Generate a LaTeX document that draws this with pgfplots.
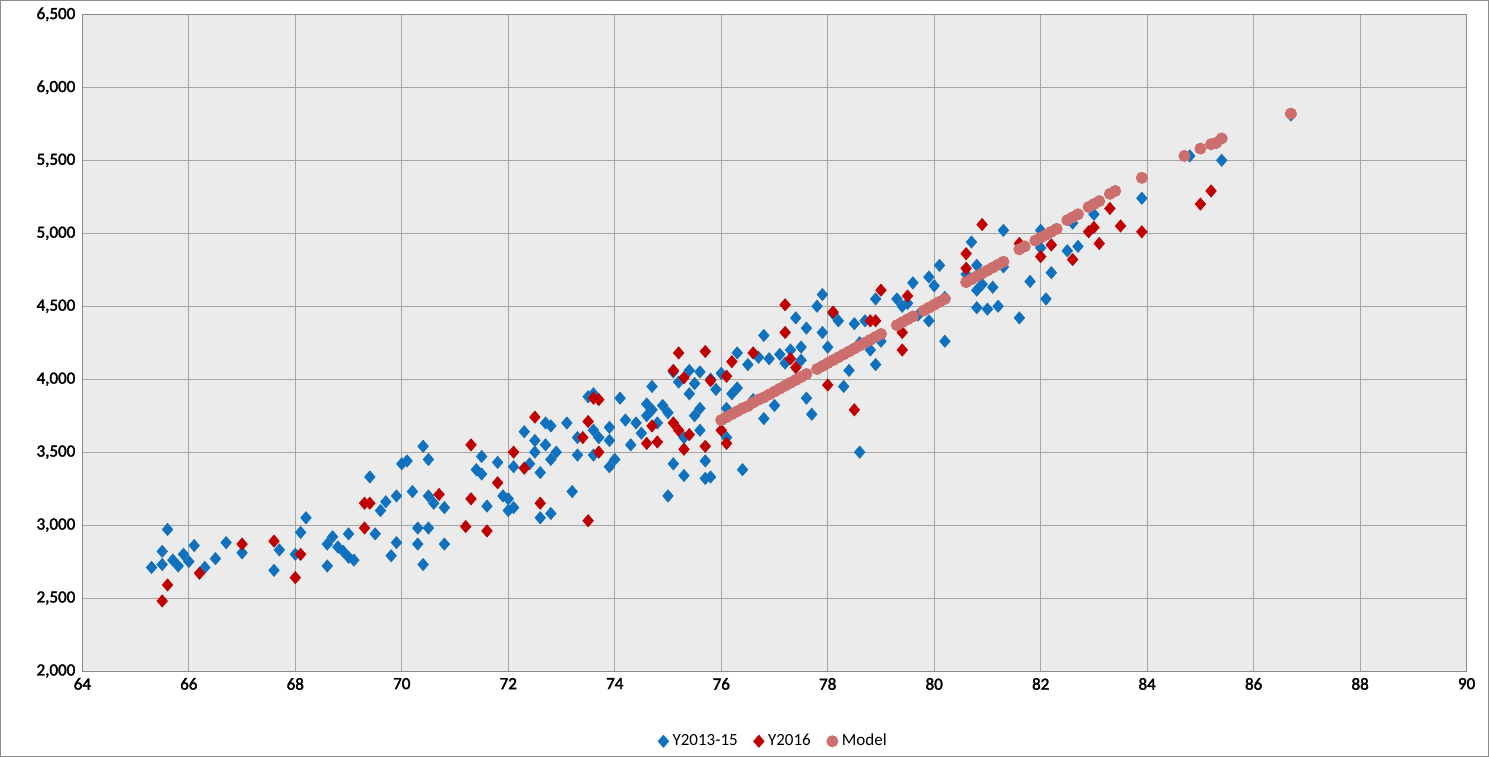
\documentclass[border=0pt]{standalone}
\usepackage{fontspec}
\setmainfont{Carlito}
\newfontfamily\tkfont{Carlito}[FakeBold=2.2]
\usepackage{pgfplots}
\pgfplotsset{compat=1.18}
\definecolor{bl}{RGB}{16,114,190}
\definecolor{rd}{RGB}{192,0,0}
\definecolor{md}{RGB}{205,110,110}
\begin{document}
\begin{tikzpicture}
\begin{axis}[
 scale only axis, width=692.5pt, height=328.5pt,
 xmin=64,xmax=90,ymin=2000,ymax=6500,
 xtick distance=2, ytick distance=500,
 grid=major, grid style={draw=black!35},
 axis background/.style={fill=black!8},
 axis line style={black!45}, tick style={draw=none},
 ticklabel style={font=\fontsize{8.5}{10}\selectfont\tkfont},
 xticklabel={\pgfmathprintnumber{\tick}},
 yticklabel={\pgfmathprintnumber[1000 sep={,}]{\tick}},
 /pgf/number format/assume math mode=true,
 scaled y ticks=false,
 legend style={at={(rel axis cs:0.5,-0.107)},anchor=center,draw=none,fill=none,legend columns=-1,font=\fontsize{8.5}{10}\selectfont,/tikz/every even column/.append style={column sep=6pt}},
 clip=false,
]
\addplot[only marks, mark=diamond*, mark size=3pt, mark options={xscale=1.15}, color=bl] coordinates {
(65.3,2710)(65.5,2730)(65.5,2820)(65.6,2970)(65.7,2760)(65.8,2720)(65.9,2800)(66.0,2750)(66.1,2860)(66.3,2710)(66.5,2770)(66.7,2880)(67.0,2810)(67.6,2690)(67.7,2830)(68.0,2800)(68.1,2950)(68.2,3050)(68.6,2720)(68.6,2870)(68.7,2920)(68.8,2850)(68.9,2820)(69.0,2780)(69.0,2940)(69.1,2760)(69.4,3330)(69.5,2940)(69.6,3100)(69.7,3160)(69.8,2790)(69.9,3200)(69.9,2880)(70.0,3420)(70.1,3440)(70.2,3230)(70.3,2980)(70.3,2870)(70.4,2730)(70.4,3540)(70.5,3450)(70.5,3200)(70.5,2980)(70.6,3150)(70.8,3120)(70.8,2870)(71.4,3380)(71.5,3470)(71.5,3350)(71.6,3130)(71.8,3430)(71.9,3200)(72.0,3100)(72.0,3180)(72.1,3400)(72.1,3120)(72.3,3640)(72.4,3420)(72.5,3500)(72.5,3580)(72.6,3360)(72.6,3050)(72.7,3700)(72.7,3550)(72.8,3450)(72.8,3680)(72.8,3080)(72.9,3500)(73.1,3700)(73.2,3230)(73.3,3600)(73.3,3480)(73.5,3880)(73.6,3650)(73.6,3480)(73.6,3900)(73.7,3600)(73.9,3580)(73.9,3670)(73.9,3400)(74.0,3450)(74.1,3870)(74.2,3720)(74.3,3550)(74.4,3700)(74.5,3630)(74.6,3750)(74.6,3830)(74.7,3790)(74.7,3950)(74.8,3700)(74.9,3820)(75.0,3770)(75.0,3200)(75.1,4050)(75.1,3420)(75.2,3980)(75.3,3340)(75.3,3600)(75.4,3900)(75.4,4060)(75.5,3750)(75.5,3970)(75.6,3800)(75.6,4050)(75.6,3650)(75.7,3320)(75.7,3440)(75.8,3330)(75.8,4000)(75.9,3930)(76.0,4040)(76.1,3600)(76.1,3800)(76.2,3900)(76.3,4180)(76.3,3940)(76.4,3380)(76.5,4100)(76.6,3860)(76.7,4150)(76.8,3730)(76.8,4300)(76.9,4140)(77.0,3820)(77.1,4170)(77.2,4110)(77.3,4200)(77.4,4420)(77.5,4220)(77.5,4130)(77.6,4350)(77.6,3870)(77.7,3760)(77.8,4500)(77.9,4580)(77.9,4320)(78.0,4220)(78.1,4450)(78.2,4400)(78.3,3950)(78.4,4060)(78.5,4380)(78.6,4250)(78.6,3500)(78.7,4400)(78.8,4200)(78.9,4550)(78.9,4100)(79.0,4260)(79.3,4550)(79.4,4500)(79.5,4520)(79.6,4660)(79.7,4440)(79.9,4700)(79.9,4400)(80.0,4640)(80.1,4780)(80.2,4560)(80.2,4260)(80.6,4720)(80.7,4940)(80.8,4780)(80.8,4490)(80.8,4610)(80.9,4650)(81.0,4480)(81.1,4630)(81.2,4500)(81.3,5020)(81.3,4770)(81.6,4420)(81.8,4670)(82.0,5020)(82.0,4900)(82.1,4550)(82.2,4730)(82.5,4880)(82.6,5070)(82.7,4910)(83.0,5130)(83.9,5240)(84.8,5530)(85.3,5620)(85.4,5500)(86.7,5810)
};
\addlegendentry{Y2013-15}
\addplot[only marks, mark=diamond*, mark size=3pt, mark options={xscale=1.15}, color=rd] coordinates {
(65.5,2480)(65.6,2590)(66.2,2670)(67.0,2870)(67.6,2890)(68.0,2640)(68.1,2800)(69.3,2980)(69.3,3150)(69.4,3150)(70.7,3210)(71.2,2990)(71.3,3550)(71.3,3180)(71.6,2960)(71.8,3290)(72.1,3500)(72.3,3390)(72.5,3740)(72.6,3150)(73.4,3600)(73.5,3030)(73.5,3710)(73.6,3870)(73.7,3500)(73.7,3860)(74.6,3560)(74.7,3680)(74.8,3570)(75.1,3700)(75.1,4060)(75.2,4180)(75.2,3650)(75.3,3520)(75.3,4010)(75.4,3620)(75.7,3540)(75.7,4190)(75.8,3990)(76.0,3650)(76.1,3560)(76.2,4120)(76.1,4020)(76.6,4180)(77.2,4510)(77.2,4320)(77.3,4140)(77.4,4080)(78.0,3960)(78.1,4460)(78.5,3790)(78.8,4400)(79.0,4610)(78.9,4400)(79.4,4200)(79.4,4320)(79.5,4570)(80.6,4860)(80.6,4760)(80.9,5060)(81.6,4930)(82.0,4840)(82.2,4920)(82.6,4820)(82.9,5010)(83.1,4930)(83.0,5040)(83.3,5170)(83.5,5050)(83.9,5010)(85.0,5200)(85.2,5290)
};
\addlegendentry{Y2016}
\addplot[only marks, mark=*, mark size=2.8pt, color=md] coordinates {
(76.0,3720)(76.1,3740)(76.2,3760)(76.3,3780)(76.4,3800)(76.5,3815)(76.6,3840)(76.7,3860)(76.8,3875)(76.9,3895)(77.0,3915)(77.1,3935)(77.2,3955)(77.3,3975)(77.4,3995)(77.5,4015)(77.6,4035)(77.8,4070)(77.9,4090)(78.0,4110)(78.1,4130)(78.2,4150)(78.3,4170)(78.4,4190)(78.5,4210)(78.6,4230)(78.7,4250)(78.8,4270)(78.9,4290)(79.0,4310)(79.3,4370)(79.4,4390)(79.5,4410)(79.6,4430)(79.8,4470)(79.9,4490)(80.0,4510)(80.1,4530)(80.2,4550)(80.6,4665)(80.7,4685)(80.8,4705)(80.9,4725)(81.0,4745)(81.1,4765)(81.2,4785)(81.3,4805)(81.6,4890)(81.7,4910)(81.9,4950)(82.0,4970)(82.1,4990)(82.2,5010)(82.3,5030)(82.5,5090)(82.6,5110)(82.7,5130)(82.9,5180)(83.0,5200)(83.1,5220)(83.3,5270)(83.4,5290)(83.9,5380)(84.7,5530)(85.0,5580)(85.2,5610)(85.3,5620)(85.4,5650)(86.7,5820)
};
\addlegendentry{Model}
\draw[black!45] (rel axis cs:-0.0592,-0.1294) rectangle (rel axis cs:1.0159,1.0213);
\end{axis}
\end{tikzpicture}
\end{document}
